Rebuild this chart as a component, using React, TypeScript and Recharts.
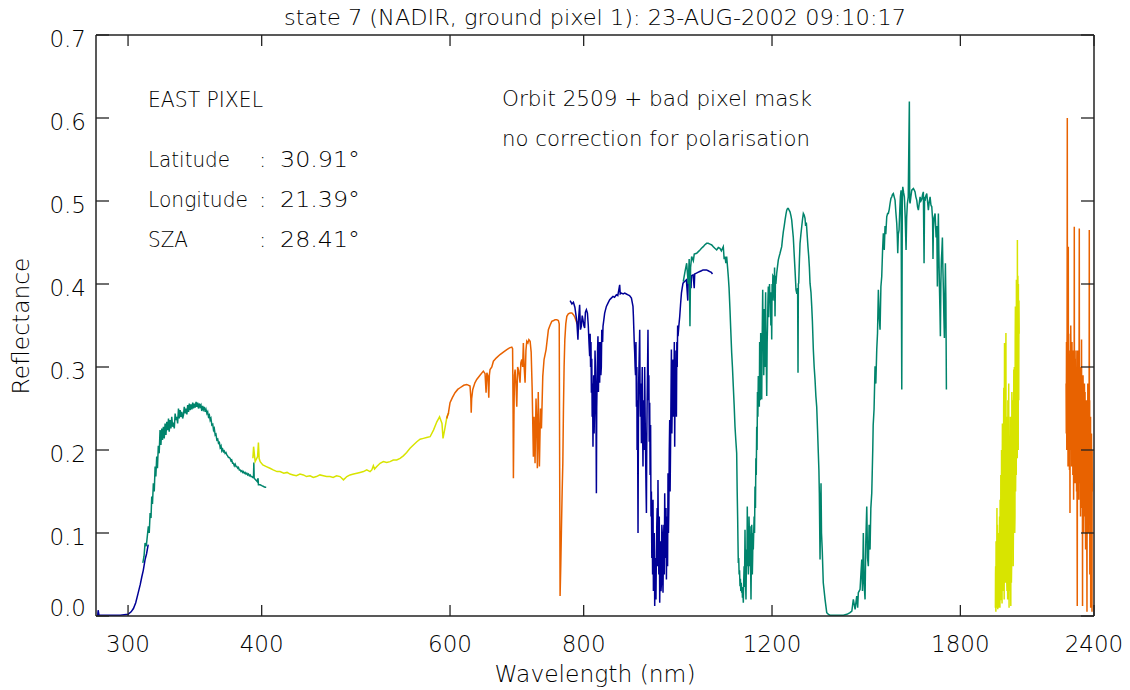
import { Line, LineChart, XAxis, YAxis } from 'recharts'

const BLUE = '#000096'
const GREEN = '#00846c'
const YELLOW = '#d8e400'
const ORANGE = '#e86200'
const INK = '#222'
const TEXT = '#000'
const FONT = '"DejaVu Sans", "Liberation Sans", sans-serif'
const WEIGHT = 200

const X_TICKS = [300, 400, 600, 800, 1200, 1800, 2400]
const Y_TICKS = [0, 0.1, 0.2, 0.3, 0.4, 0.5, 0.6, 0.7]

// [wavelength (nm), reflectance] per SCIAMACHY channel
const chan1: [number, number][] = [
  [281, 0.0], [281.3, 0.007], [281.8, 0.001], [288, 0.001], [295, 0.001], [300, 0.002], [302, 0.005],
  [303.5, 0.009], [305, 0.016], [306.5, 0.027], [308, 0.038], [309, 0.047], [310, 0.055], [311.2, 0.068],
  [312.2, 0.075], [313.3, 0.086],
]

const chan2: [number, number][] = [
  [309.7, 0.064], [310.5, 0.072], [311.2, 0.088], [312, 0.084], [313.4, 0.108], [314, 0.1], [314.6, 0.124],
  [315.2, 0.118], [315.7, 0.144], [316.2, 0.135], [316.8, 0.16], [317.4, 0.15], [318, 0.18], [318.5, 0.168],
  [319.1, 0.192], [319.6, 0.178], [320.2, 0.205], [320.8, 0.196], [321.4, 0.224], [322, 0.206], [322.6, 0.226],
  [323.1, 0.212], [323.7, 0.228], [324.3, 0.214], [324.9, 0.232], [325.5, 0.218], [326.1, 0.234], [326.7, 0.224],
  [327.3, 0.238], [327.8, 0.222], [328.4, 0.236], [329, 0.226], [329.6, 0.24], [330.2, 0.228], [330.8, 0.233],
  [331.4, 0.226], [332, 0.244], [332.6, 0.236], [333.2, 0.24], [333.8, 0.232], [334.4, 0.25], [335, 0.238],
  [335.6, 0.248], [336.2, 0.24], [336.8, 0.246], [337.4, 0.238], [338, 0.242], [338.6, 0.252], [339.3, 0.244],
  [339.9, 0.25], [340.5, 0.243], [341.1, 0.254], [341.7, 0.246], [342.3, 0.256], [342.9, 0.248], [343.5, 0.255],
  [344.2, 0.249], [344.8, 0.257], [345.4, 0.25], [346, 0.256], [346.6, 0.251], [347.3, 0.258], [347.9, 0.252],
  [348.5, 0.257], [349.1, 0.25], [349.8, 0.256], [350.4, 0.252], [351, 0.254], [351.6, 0.247], [352.3, 0.253],
  [352.9, 0.249], [353.5, 0.252], [354.2, 0.246], [354.8, 0.249], [355.5, 0.244], [356.1, 0.246], [356.7, 0.24],
  [357.4, 0.242], [358, 0.236], [358.6, 0.238], [359.3, 0.23], [360, 0.231], [360.6, 0.224], [361.2, 0.226],
  [361.9, 0.218], [362.5, 0.219], [363.2, 0.212], [363.9, 0.213], [364.5, 0.208], [365.2, 0.209], [365.8, 0.203],
  [366.5, 0.205], [367.1, 0.199], [367.8, 0.201], [368.4, 0.198], [369, 0.199], [369.7, 0.196], [370.4, 0.197],
  [371.1, 0.194], [371.7, 0.193], [372.4, 0.191], [373, 0.191], [373.7, 0.19], [374.4, 0.187], [375, 0.188],
  [375.7, 0.184], [376.4, 0.184], [377.1, 0.181], [377.8, 0.183], [378.5, 0.18], [379.2, 0.18], [379.9, 0.178],
  [380.5, 0.179], [381.2, 0.176], [381.9, 0.176], [382.6, 0.174], [383.3, 0.175], [384, 0.173], [384.6, 0.174],
  [385.3, 0.172], [386, 0.173], [386.7, 0.171], [387.4, 0.172], [388.1, 0.17], [388.8, 0.171], [389.5, 0.169],
  [390.2, 0.17], [390.9, 0.168], [391.6, 0.168], [392.3, 0.167], [393, 0.167], [393.3, 0.185], [393.6, 0.166],
  [394.2, 0.165], [394.9, 0.164], [395.6, 0.163], [396.2, 0.162], [396.9, 0.166], [397.2, 0.158], [398.7, 0.158],
  [400.1, 0.157], [401.6, 0.156], [403, 0.155], [403.9, 0.155],
]

const chan3: [number, number][] = [
  [392.5, 0.19], [393.1, 0.204], [394.4, 0.186], [396.5, 0.192], [397.2, 0.209], [397.8, 0.19], [398.7, 0.186],
  [401, 0.182], [404, 0.18], [407.2, 0.178], [410, 0.176], [413.4, 0.174], [416.1, 0.174], [419.5, 0.172],
  [422.5, 0.173], [425.1, 0.171], [428, 0.17], [431, 0.169], [434.4, 0.171], [437.6, 0.17], [440.5, 0.168],
  [443.9, 0.169], [447, 0.167], [450, 0.168], [453.5, 0.17], [456.8, 0.169], [460, 0.168], [463.4, 0.168],
  [466.5, 0.167], [470, 0.169], [473.5, 0.168], [477, 0.164], [480.5, 0.168], [483.8, 0.17], [487.5, 0.171],
  [491, 0.172], [494.3, 0.173], [498, 0.174], [501.5, 0.176], [505.1, 0.174], [507, 0.176], [508.7, 0.181],
  [510, 0.177], [512.5, 0.18], [516.1, 0.184], [519.8, 0.186], [523.5, 0.185], [527.3, 0.186], [531, 0.188],
  [535, 0.188], [538.8, 0.19], [542.6, 0.193], [546.5, 0.197], [550.5, 0.202], [554.5, 0.206], [558.6, 0.21],
  [562.5, 0.213], [566.6, 0.214], [570.5, 0.215], [574.8, 0.216], [579, 0.224], [583.2, 0.234], [586.6, 0.24],
  [589.7, 0.232], [591, 0.214], [593, 0.224], [596, 0.24], [598.5, 0.245],
]

const chan4: [number, number][] = [
  [595.8, 0.238], [598, 0.245], [600, 0.257], [603, 0.263], [606.5, 0.269], [610, 0.273], [613.1, 0.275],
  [618, 0.278], [622, 0.279], [626.4, 0.277], [627.5, 0.262], [628, 0.245], [628.6, 0.262], [630.1, 0.273],
  [633, 0.281], [635.5, 0.285], [640, 0.29], [644.6, 0.295], [647, 0.292], [648.4, 0.269], [649.5, 0.293],
  [651, 0.289], [652.2, 0.263], [653, 0.29], [654, 0.297], [656.5, 0.3], [658.7, 0.307], [663, 0.311],
  [668.2, 0.315], [673, 0.318], [678, 0.321], [682, 0.323], [685.3, 0.324], [686.5, 0.322], [687.2, 0.25],
  [687.7, 0.166], [688.5, 0.24], [689.3, 0.29], [690.2, 0.297], [691.5, 0.28], [692.7, 0.252], [694, 0.3],
  [695.5, 0.296], [697.6, 0.281], [698.8, 0.305], [700.2, 0.309], [701.5, 0.3], [702.6, 0.329], [703.8, 0.3],
  [705.2, 0.281], [706.5, 0.32], [707.8, 0.331], [709.5, 0.329], [711, 0.333], [712.9, 0.331], [714.5, 0.318],
  [716, 0.275], [717.9, 0.192], [719, 0.24], [720.5, 0.184], [722, 0.262], [723.2, 0.23], [724.1, 0.178],
  [725.5, 0.27], [726.5, 0.215], [727.3, 0.18], [729, 0.25], [730.5, 0.226], [732.6, 0.289], [734.6, 0.309],
  [737.8, 0.321], [741.5, 0.345], [744, 0.35], [746.9, 0.355], [750, 0.356], [752.3, 0.357], [755, 0.357],
  [757.6, 0.356], [759, 0.352], [760.4, 0.024], [761.5, 0.06], [762.6, 0.104], [763.8, 0.15], [764.9, 0.184],
  [765.9, 0.248], [767, 0.3], [768.2, 0.333], [769.8, 0.352], [771.5, 0.361], [774, 0.364], [777, 0.365],
  [780, 0.365], [782.5, 0.363], [785, 0.36], [788.3, 0.353], [790.5, 0.355],
]

const chan5: [number, number][] = [
  [777, 0.38], [780, 0.376], [782.5, 0.378], [785, 0.372], [788.3, 0.355], [790.2, 0.333], [791.5, 0.36],
  [793.1, 0.375], [794.5, 0.345], [796, 0.349], [797.5, 0.362], [798.8, 0.357], [800.3, 0.35], [801.7, 0.347],
  [803, 0.366], [804.7, 0.369], [806.5, 0.365], [808, 0.35], [809.2, 0.33], [810.4, 0.313], [811.2, 0.34],
  [812, 0.3], [812.7, 0.33], [813.4, 0.269], [814.1, 0.31], [814.8, 0.24], [815.5, 0.28], [816.2, 0.204],
  [816.8, 0.26], [817.5, 0.29], [818.2, 0.22], [819, 0.25], [819.8, 0.32], [820.5, 0.3], [821.4, 0.26],
  [822.2, 0.148], [822.8, 0.25], [823.5, 0.28], [824.3, 0.32], [825, 0.337], [825.8, 0.27], [826.5, 0.3],
  [827.2, 0.33], [828, 0.281], [828.8, 0.31], [829.5, 0.33], [830.2, 0.29], [831, 0.3], [831.8, 0.345],
  [832.5, 0.34], [833.3, 0.33], [834, 0.349], [837, 0.365], [840.1, 0.373], [843, 0.377], [846.1, 0.381],
  [849, 0.383], [852.1, 0.385], [855, 0.384], [858.4, 0.387], [861, 0.386], [864.5, 0.399], [865.5, 0.388],
  [867.7, 0.389], [871, 0.388], [873.9, 0.389], [877, 0.388], [880.1, 0.387], [883, 0.386], [886.6, 0.383],
  [889.6, 0.373], [890.5, 0.36], [891, 0.35], [892, 0.33], [892.9, 0.317], [893.7, 0.3], [894.5, 0.29],
  [895.3, 0.33], [896.2, 0.252], [897, 0.3], [897.5, 0.2], [898.3, 0.26], [899.3, 0.1], [900, 0.22],
  [900.5, 0.28], [901.5, 0.31], [902.6, 0.345], [903.3, 0.27], [904, 0.24], [905, 0.28], [905.9, 0.208],
  [906.7, 0.26], [907.5, 0.3], [908.3, 0.22], [909, 0.18], [909.8, 0.26], [910.5, 0.25], [911.4, 0.2],
  [912.3, 0.3], [913.2, 0.24], [914, 0.2], [914.8, 0.16], [915.7, 0.124], [916.3, 0.2], [917, 0.25], [918, 0.3],
  [918.8, 0.345], [919.6, 0.26], [920.5, 0.29], [921.3, 0.21], [922.2, 0.257], [923, 0.17], [924, 0.23],
  [924.8, 0.12], [925.6, 0.15], [926.4, 0.07], [927.2, 0.108], [928, 0.05], [928.8, 0.14], [929.6, 0.03],
  [930.5, 0.06], [931.3, 0.1], [932.2, 0.012], [933, 0.05], [933.9, 0.07], [934.7, 0.02], [935.6, 0.076],
  [936.4, 0.11], [937.2, 0.13], [938, 0.06], [938.8, 0.164], [939.6, 0.09], [940.5, 0.05], [941.4, 0.12],
  [942.3, 0.016], [943.1, 0.06], [944, 0.09], [944.9, 0.03], [945.8, 0.04], [946.6, 0.11], [947.5, 0.1],
  [948.2, 0.05], [949, 0.028], [949.9, 0.08], [950.8, 0.11], [951.6, 0.05], [952.5, 0.148], [953.4, 0.09],
  [954.2, 0.07], [955.1, 0.13], [956, 0.044], [956.8, 0.1], [957.5, 0.12], [958.4, 0.06], [959.3, 0.172],
  [960.2, 0.1], [961, 0.13], [961.9, 0.2], [962.8, 0.236], [963.6, 0.15], [964.5, 0.2], [965.4, 0.26],
  [966.3, 0.321], [967.2, 0.22], [968, 0.25], [968.9, 0.3], [969.7, 0.309], [970.6, 0.24], [971.5, 0.28],
  [972.4, 0.33], [973.2, 0.204], [974.1, 0.3], [975, 0.26], [975.9, 0.32], [976.8, 0.24], [977.7, 0.33],
  [978.5, 0.3], [979.4, 0.35], [980.2, 0.337], [982, 0.35], [983.8, 0.361], [985.5, 0.375], [987.4, 0.389],
  [989, 0.395], [990.8, 0.401], [994, 0.403], [998, 0.405], [1001, 0.38], [1002, 0.407], [1005.2, 0.409],
  [1008, 0.395], [1009, 0.41], [1012.4, 0.411], [1015, 0.395], [1016, 0.412], [1019.8, 0.413], [1023, 0.414],
  [1027.1, 0.415], [1031, 0.416], [1034.4, 0.417], [1038, 0.417], [1042, 0.417], [1046, 0.416], [1049.5, 0.415],
  [1053, 0.414], [1055.6, 0.412],
]

const chan6: [number, number][] = [
  [991.3, 0.403], [995, 0.415], [998.6, 0.425], [1002, 0.4], [1004, 0.43], [1005.7, 0.349], [1007, 0.42],
  [1009.4, 0.433], [1013, 0.428], [1015, 0.436], [1020.3, 0.437], [1024, 0.439], [1027.6, 0.441], [1031, 0.443],
  [1034.9, 0.445], [1038, 0.447], [1042.5, 0.449], [1046, 0.449], [1050, 0.448], [1054, 0.447], [1057.5, 0.445],
  [1061, 0.443], [1065.2, 0.441], [1069, 0.444], [1072.8, 0.443], [1076, 0.44], [1080.5, 0.445], [1082.5, 0.43],
  [1084.5, 0.433], [1086.5, 0.425], [1088.4, 0.433], [1090.5, 0.42], [1092.2, 0.409], [1094, 0.395],
  [1096.2, 0.369], [1098, 0.345], [1100.2, 0.317], [1102, 0.3], [1104, 0.277], [1106, 0.255], [1108.1, 0.228],
  [1110, 0.212], [1112.1, 0.196], [1113.3, 0.15], [1114.5, 0.116], [1115.2, 0.09], [1116, 0.064], [1117, 0.07],
  [1118, 0.05], [1119, 0.055], [1120.1, 0.036], [1121, 0.045], [1122, 0.03], [1123, 0.04], [1124.2, 0.028],
  [1125, 0.035], [1126, 0.022], [1127, 0.03], [1128.1, 0.016], [1129, 0.04], [1130, 0.06], [1131, 0.035],
  [1132.2, 0.104], [1133, 0.07], [1133.5, 0.05], [1134.1, 0.03], [1134.6, 0.02], [1135.3, 0.05], [1136, 0.08],
  [1137, 0.06], [1137.8, 0.132], [1138.6, 0.07], [1139.5, 0.09], [1140.4, 0.05], [1141.3, 0.068], [1142, 0.12],
  [1143, 0.1], [1143.8, 0.06], [1144.5, 0.108], [1145.2, 0.08], [1146, 0.06], [1146.9, 0.02], [1147.5, 0.05],
  [1148, 0.07], [1148.7, 0.11], [1149.4, 0.096], [1150.2, 0.05], [1151, 0.07], [1151.8, 0.1], [1152.6, 0.08],
  [1153.6, 0.1], [1154.7, 0.12], [1155.7, 0.1], [1156.8, 0.156], [1158, 0.13], [1159, 0.19], [1160, 0.17],
  [1161.1, 0.228], [1162, 0.2], [1163, 0.27], [1164, 0.24], [1165.1, 0.289], [1166.3, 0.27], [1167.6, 0.252],
  [1168.5, 0.33], [1169.5, 0.3], [1170.3, 0.26], [1171.1, 0.341], [1172, 0.28], [1172.5, 0.3], [1173.7, 0.261],
  [1174.4, 0.31], [1175, 0.34], [1176.2, 0.393], [1177, 0.33], [1178, 0.35], [1178.8, 0.29], [1179.5, 0.309],
  [1180.2, 0.37], [1181, 0.345], [1182, 0.3], [1182.8, 0.361], [1183.6, 0.39], [1184.5, 0.32], [1185.5, 0.3],
  [1186.4, 0.265], [1187.5, 0.33], [1188.5, 0.35], [1189.5, 0.38], [1190.5, 0.397], [1191.5, 0.36],
  [1192.5, 0.38], [1193.6, 0.4], [1194.8, 0.377], [1196, 0.39], [1197, 0.35], [1198, 0.39], [1199.2, 0.333],
  [1200.2, 0.4], [1201, 0.38], [1202.2, 0.41], [1203.4, 0.409], [1204.5, 0.39], [1205.5, 0.38], [1206.6, 0.42],
  [1207.8, 0.361], [1209, 0.41], [1210, 0.4], [1212.2, 0.413], [1214, 0.42], [1216.4, 0.429], [1218.5, 0.433],
  [1220.9, 0.437], [1223, 0.441], [1225.3, 0.445], [1227.5, 0.455], [1229.6, 0.463], [1232, 0.47],
  [1234.1, 0.477], [1236.5, 0.484], [1238.6, 0.489], [1240.8, 0.491], [1242.9, 0.491], [1245, 0.489],
  [1247.4, 0.487], [1250, 0.482], [1252, 0.477], [1254, 0.467], [1256.3, 0.456], [1258.5, 0.437], [1260.9, 0.417],
  [1263.6, 0.393], [1266, 0.388], [1268, 0.395], [1269.1, 0.293], [1270, 0.4], [1271, 0.401], [1273, 0.43],
  [1274.6, 0.449], [1277, 0.46], [1279.2, 0.469], [1281.5, 0.478], [1283.7, 0.485], [1286, 0.483],
  [1288.4, 0.479], [1290, 0.47], [1292, 0.474], [1294.8, 0.456], [1296.5, 0.445], [1298.7, 0.433], [1300.5, 0.42],
  [1302.3, 0.401], [1305, 0.39], [1307.1, 0.373], [1309, 0.355], [1311.6, 0.321], [1314, 0.3], [1316.4, 0.285],
  [1318.8, 0.265], [1321.2, 0.252], [1323.5, 0.225], [1325.8, 0.196], [1327.5, 0.175], [1328.7, 0.148],
  [1330.7, 0.068], [1332, 0.12], [1333.5, 0.16], [1334.9, 0.1], [1337, 0.08], [1340, 0.04], [1345.1, 0.02],
  [1350, 0.004], [1355, 0.002], [1359.6, 0.001], [1370, 0.001], [1379.4, 0.001], [1390, 0.001], [1399.2, 0.001],
  [1410, 0.002], [1419.4, 0.004], [1425, 0.006], [1429.6, 0.02], [1435, 0.008], [1440.1, 0.024], [1443, 0.01],
  [1445, 0.028], [1450.4, 0.032], [1453, 0.05], [1455.7, 0.068], [1458, 0.03], [1460.7, 0.1], [1463, 0.04],
  [1466.1, 0.02], [1468.5, 0.09], [1471.5, 0.132], [1474, 0.07], [1476.5, 0.06], [1479, 0.11], [1481.9, 0.08],
  [1484.5, 0.13], [1487.4, 0.148], [1490.6, 0.2], [1492, 0.23], [1494.8, 0.249], [1498, 0.301], [1500.5, 0.28],
  [1503.5, 0.321], [1506, 0.341], [1508.7, 0.393], [1511.5, 0.36], [1514.2, 0.345], [1517, 0.397],
  [1519.7, 0.409], [1522.5, 0.441], [1525, 0.461], [1528, 0.441], [1530.6, 0.47], [1533, 0.46], [1536.2, 0.481],
  [1539, 0.485], [1541.5, 0.485], [1544.5, 0.49], [1547.2, 0.497], [1550, 0.503], [1552.8, 0.505],
  [1555.5, 0.508], [1558.2, 0.509], [1561, 0.505], [1563.9, 0.501], [1566.5, 0.487], [1569.6, 0.473],
  [1571.3, 0.46], [1573, 0.437], [1575, 0.46], [1577.4, 0.465], [1580, 0.49], [1582, 0.505], [1584.3, 0.513],
  [1586.7, 0.273], [1588.5, 0.5], [1590.1, 0.517], [1593, 0.51], [1595.6, 0.505], [1598.5, 0.48], [1601.4, 0.441],
  [1603.5, 0.48], [1605.9, 0.497], [1609, 0.505], [1612.8, 0.62], [1614, 0.5], [1615.3, 0.497], [1618, 0.505],
  [1621.2, 0.513], [1624, 0.514], [1626.8, 0.515], [1630, 0.513], [1632.8, 0.511], [1635.5, 0.505],
  [1638.7, 0.501], [1641.5, 0.493], [1644.4, 0.489], [1647.5, 0.497], [1650.4, 0.505], [1653.5, 0.5],
  [1656.5, 0.502], [1659.5, 0.508], [1662.2, 0.511], [1664.7, 0.425], [1666.5, 0.505], [1668.3, 0.5],
  [1671, 0.506], [1674.4, 0.509], [1677, 0.5], [1680.2, 0.489], [1683, 0.498], [1686.4, 0.505], [1689.5, 0.495],
  [1692.6, 0.493], [1695.5, 0.478], [1697, 0.43], [1698.4, 0.465], [1701, 0.48], [1704.7, 0.485], [1708.4, 0.456],
  [1711, 0.47], [1713.1, 0.397], [1715, 0.45], [1716.8, 0.485], [1718.5, 0.44], [1720.5, 0.401], [1722.5, 0.37],
  [1724.2, 0.337], [1726, 0.4], [1727.9, 0.429], [1729.8, 0.44], [1731.7, 0.456], [1733.5, 0.42], [1735.4, 0.393],
  [1737.3, 0.36], [1739.2, 0.335], [1741, 0.38], [1742.9, 0.425], [1744.8, 0.38], [1746.7, 0.273],
]

const chan7: [number, number][] = [
  [1941, 0.01], [1941.5, 0.05], [1942, 0.06], [1942.5, 0.02], [1943, 0.005], [1943.8, 0.09], [1944.5, 0.04],
  [1945.2, 0.01], [1946, 0.012], [1946.8, 0.07], [1947.5, 0.13], [1948, 0.03], [1948.5, 0.02], [1949.3, 0.11],
  [1950, 0.08], [1950.5, 0.02], [1951, 0.008], [1951.8, 0.06], [1952.5, 0.1], [1953.2, 0.03], [1954, 0.015],
  [1954.8, 0.09], [1955.5, 0.07], [1956.2, 0.01], [1957, 0.03], [1957.8, 0.1], [1958.5, 0.12], [1959.2, 0.04],
  [1960, 0.01], [1960.8, 0.14], [1961.5, 0.06], [1962.2, 0.02], [1963, 0.02], [1963.8, 0.17], [1964.5, 0.15],
  [1965.2, 0.05], [1966, 0.03], [1966.8, 0.2], [1967.5, 0.11], [1968.2, 0.04], [1969, 0.015], [1969.8, 0.16],
  [1970.5, 0.232], [1971.2, 0.07], [1972, 0.04], [1972.8, 0.22], [1973.5, 0.19], [1974.2, 0.03], [1975, 0.06],
  [1975.8, 0.25], [1976.5, 0.275], [1977.2, 0.09], [1978, 0.02], [1978.8, 0.22], [1979.5, 0.329], [1980.2, 0.1],
  [1981, 0.08], [1981.8, 0.27], [1982.5, 0.2], [1983.2, 0.05], [1984, 0.04], [1984.8, 0.3], [1985.5, 0.341],
  [1986.2, 0.12], [1987, 0.06], [1987.8, 0.22], [1988.5, 0.15], [1989.2, 0.04], [1990, 0.03], [1990.8, 0.2],
  [1991.5, 0.24], [1992.2, 0.06], [1993, 0.02], [1993.8, 0.26], [1994.5, 0.18], [1995.2, 0.03], [1996, 0.05],
  [1996.8, 0.22], [1997.5, 0.28], [1998.2, 0.07], [1999, 0.01], [2000, 0.2], [2001, 0.12], [2002, 0.03],
  [2003, 0.04], [2003.8, 0.19], [2004.7, 0.24], [2005.6, 0.05], [2006.5, 0.012], [2007.2, 0.23], [2008, 0.18],
  [2009, 0.04], [2010, 0.06], [2011, 0.27], [2012, 0.25], [2013, 0.09], [2014, 0.08], [2015, 0.26], [2016, 0.2],
  [2016.8, 0.06], [2017.7, 0.1], [2018.6, 0.24], [2019.5, 0.297], [2020.2, 0.12], [2021, 0.15], [2021.8, 0.3],
  [2022.5, 0.25], [2023.5, 0.1], [2024.5, 0.12], [2025.5, 0.33], [2026.4, 0.373], [2027.2, 0.15], [2028, 0.18],
  [2028.8, 0.36], [2029.5, 0.32], [2030.2, 0.17], [2030.8, 0.405], [2031.6, 0.22], [2032.5, 0.2], [2033.2, 0.38],
  [2034, 0.34], [2034.6, 0.19], [2035.1, 0.453], [2035.8, 0.22], [2036.5, 0.25], [2037.2, 0.41], [2038, 0.38],
  [2038.8, 0.2], [2039.5, 0.4], [2040.2, 0.3], [2041, 0.26], [2042, 0.38], [2043, 0.34],
]

const chan8: [number, number][] = [
  [2260, 0.28], [2261, 0.22], [2262, 0.33], [2262.8, 0.25], [2263.5, 0.2], [2264.3, 0.31], [2265, 0.345],
  [2265.9, 0.6], [2266.5, 0.3], [2267, 0.26], [2267.8, 0.33], [2268.5, 0.34], [2269, 0.24], [2269.5, 0.18],
  [2270.2, 0.3], [2270.8, 0.445], [2271.4, 0.25], [2272, 0.3], [2272.8, 0.34], [2273.5, 0.22], [2274.2, 0.29],
  [2275, 0.32], [2275.8, 0.23], [2276.5, 0.176], [2277.2, 0.31], [2278, 0.28], [2278.5, 0.2], [2279.1, 0.124],
  [2279.8, 0.27], [2280.5, 0.3], [2281.2, 0.21], [2282, 0.25], [2282.8, 0.35], [2283.5, 0.33], [2284.2, 0.22],
  [2285, 0.2], [2285.8, 0.32], [2286.5, 0.29], [2287.2, 0.18], [2288, 0.23], [2288.8, 0.33], [2289.5, 0.31],
  [2290.2, 0.2], [2291, 0.19], [2291.8, 0.3], [2292.5, 0.27], [2293.2, 0.17], [2294, 0.22], [2294.8, 0.32],
  [2295.5, 0.3], [2296.2, 0.2], [2297, 0.14], [2297.8, 0.29], [2298.5, 0.28], [2299.4, 0.22], [2300.3, 0.469],
  [2301, 0.26], [2301.5, 0.2], [2302.2, 0.3], [2303, 0.26], [2304, 0.16], [2305, 0.18], [2305.8, 0.31],
  [2306.5, 0.3], [2307.2, 0.17], [2308, 0.23], [2309, 0.32], [2310, 0.28], [2310.8, 0.2], [2311.5, 0.15],
  [2312.2, 0.3], [2313, 0.25], [2314, 0.14], [2315, 0.012], [2315.8, 0.18], [2316.5, 0.23], [2317.2, 0.32],
  [2318, 0.3], [2319, 0.16], [2320, 0.2], [2320.8, 0.31], [2321.5, 0.27], [2322.2, 0.18], [2323, 0.14],
  [2324, 0.3], [2325.2, 0.467], [2325.8, 0.25], [2326.5, 0.22], [2327.2, 0.29], [2328, 0.16], [2329, 0.3],
  [2330, 0.26], [2330.8, 0.18], [2331.5, 0.12], [2332.2, 0.27], [2333, 0.23], [2334, 0.13], [2335, 0.18],
  [2335.8, 0.29], [2336.5, 0.333], [2337.2, 0.2], [2338, 0.15], [2339, 0.28], [2340, 0.25], [2340.8, 0.15],
  [2341.5, 0.012], [2342.2, 0.22], [2343, 0.2], [2344, 0.29], [2345, 0.27], [2345.8, 0.15], [2346.5, 0.1],
  [2347.2, 0.26], [2348, 0.24], [2349, 0.12], [2350, 0.15], [2351, 0.28], [2352, 0.26], [2352.8, 0.16],
  [2353.5, 0.13], [2354.2, 0.27], [2355, 0.2], [2356, 0.12], [2357, 0.08], [2358, 0.25], [2359, 0.23],
  [2359.8, 0.13], [2360.5, 0.12], [2361.2, 0.26], [2362, 0.19], [2363, 0.1], [2364, 0.005], [2365, 0.24],
  [2366, 0.21], [2366.8, 0.12], [2367.5, 0.14], [2368.2, 0.28], [2369, 0.25], [2369.8, 0.13], [2370.5, 0.1],
  [2371.2, 0.26], [2372, 0.22], [2373, 0.12], [2374, 0.17], [2375, 0.27], [2375.8, 0.465], [2376.4, 0.2],
  [2377, 0.2], [2377.8, 0.26], [2378.5, 0.05], [2379.2, 0.2], [2380, 0.23], [2380.8, 0.11], [2381.5, 0.15],
  [2382.2, 0.24], [2383, 0.01], [2383.8, 0.22], [2384.5, 0.2], [2385.2, 0.09], [2386, 0.1], [2387, 0.22],
  [2388, 0.18], [2388.8, 0.08], [2389.7, 0.005], [2390.4, 0.2], [2391, 0.15],
]

const CHANNELS = [
  { id: 'ch1', pts: chan1, color: BLUE },
  { id: 'ch2', pts: chan2, color: GREEN },
  { id: 'ch3', pts: chan3, color: YELLOW },
  { id: 'ch4', pts: chan4, color: ORANGE },
  { id: 'ch5', pts: chan5, color: BLUE },
  { id: 'ch6', pts: chan6, color: GREEN },
  { id: 'ch7', pts: chan7, color: YELLOW },
  { id: 'ch8', pts: chan8, color: ORANGE },
]

const textProps = { fontFamily: FONT, fontWeight: WEIGHT, fill: TEXT }

function BottomTick({ x, y, payload }: any) {
  return (
    <g>
      <line x1={x} x2={x} y1={y} y2={y - 11} stroke={INK} strokeWidth={1.3} />
      <text x={x} y={y + 36} textAnchor="middle" fontSize={23} {...textProps}>{payload.value}</text>
    </g>
  )
}

function TopTick({ x, y }: any) {
  return <line x1={x} x2={x} y1={y} y2={y + 11} stroke={INK} strokeWidth={1.3} />
}

function LeftTick({ x, y, payload }: any) {
  const v = Number(payload.value)
  return (
    <g>
      <line x1={x} x2={x + 13} y1={y} y2={y} stroke={INK} strokeWidth={1.3} />
      <text x={x - 10} y={v === 0 ? y : y + 12} textAnchor="end" fontSize={23} {...textProps}>{v.toFixed(1)}</text>
    </g>
  )
}

function RightTick({ x, y }: any) {
  return <line x1={x} x2={x - 13} y1={y} y2={y} stroke={INK} strokeWidth={1.3} />
}

function Annotations() {
  const t = { ...textProps, fontSize: 21.5, lengthAdjust: 'spacingAndGlyphs' as const }
  return (
    <svg width={1130} height={690} style={{ position: 'absolute', left: 0, top: 0, pointerEvents: 'none' }}>
      <text x={595} y={25} textAnchor="middle" textLength={622} {...t}>
        state 7 (NADIR, ground pixel 1): 23-AUG-2002 09:10:17
      </text>
      <text x={148} y={107} textLength={115} {...t}>EAST PIXEL</text>
      <text x={148} y={167} textLength={82} {...t}>Latitude</text>
      <text x={148} y={207} textLength={100} {...t}>Longitude</text>
      <text x={148} y={247} textLength={40} {...t}>SZA</text>
      <text x={259} y={167} {...t}>:</text>
      <text x={259} y={207} {...t}>:</text>
      <text x={259} y={247} {...t}>:</text>
      <text x={280} y={167} textLength={80} {...t}>30.91°</text>
      <text x={280} y={207} textLength={80} {...t}>21.39°</text>
      <text x={280} y={247} textLength={80} {...t}>28.41°</text>
      <text x={502} y={106} textLength={310} {...t}>Orbit 2509 + bad pixel mask</text>
      <text x={502} y={146} textLength={308} {...t}>no correction for polarisation</text>
      <text x={595} y={682} textAnchor="middle" textLength={201} {...t} fontSize={23}>Wavelength (nm)</text>
      <text x={29} y={326} textAnchor="middle" textLength={137} transform="rotate(-90 29 326)" {...t} fontSize={23}>
        Reflectance
      </text>
    </svg>
  )
}

export default function App() {
  return (
    <div style={{ position: 'absolute', left: 0, top: 0, width: 1130, height: 690, background: '#fff' }}>
      <LineChart width={1130} height={690} margin={{ top: 0, right: 0, bottom: 0, left: 0 }}>
        <XAxis
          xAxisId="b" type="number" dataKey="wl" scale="log" domain={[280, 2400]} allowDataOverflow
          ticks={X_TICKS} interval={0} height={74} tickSize={0} tickMargin={0} tickLine={false}
          tick={<BottomTick />} axisLine={{ stroke: INK, strokeWidth: 1.5 }}
        />
        <XAxis
          xAxisId="t" orientation="top" type="number" dataKey="wl" scale="log" domain={[280, 2400]} allowDataOverflow
          ticks={X_TICKS} interval={0} height={35} tickSize={0} tickMargin={0} tickLine={false}
          tick={<TopTick />} axisLine={{ stroke: INK, strokeWidth: 1.5 }}
        />
        <YAxis
          yAxisId="l" type="number" domain={[0, 0.7]} allowDataOverflow ticks={Y_TICKS} interval={0} width={96}
          tickSize={0} tickMargin={0} tickLine={false} tick={<LeftTick />} axisLine={{ stroke: INK, strokeWidth: 1.5 }}
        />
        <YAxis
          yAxisId="r" orientation="right" type="number" domain={[0, 0.7]} allowDataOverflow ticks={Y_TICKS}
          interval={0} width={36} tickSize={0} tickMargin={0} tickLine={false} tick={<RightTick />}
          axisLine={{ stroke: INK, strokeWidth: 1.5 }}
        />
        {CHANNELS.map((c) => (
          <Line
            key={c.id}
            xAxisId="b"
            yAxisId="l"
            data={c.pts.map(([wl, r]) => ({ wl, r }))}
            dataKey="r"
            type="linear"
            stroke={c.color}
            strokeWidth={1.5}
            dot={false}
            activeDot={false}
            isAnimationActive={false}
          />
        ))}
      </LineChart>
      <Annotations />
    </div>
  )
}
